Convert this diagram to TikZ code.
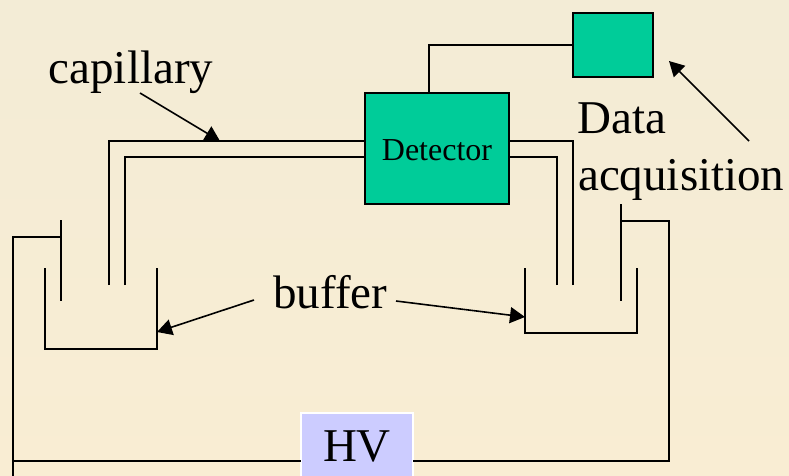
\documentclass[tikz,border=0pt]{standalone}
\usepackage{fontspec}
\setmainfont{Liberation Serif}
\usepackage{xcolor}
\usetikzlibrary{arrows.meta, positioning}
\definecolor{slidetop}{HTML}{F3ECD6}
\definecolor{slidebot}{HTML}{F9EDD3}
\definecolor{unitgreen}{HTML}{00CC99}
\definecolor{hvblue}{HTML}{CCCCFF}

\begin{document}
\begin{tikzpicture}[
  x=1pt, y=-1pt,
  wire/.style={draw, line width=1.8pt, line join=miter},
  unit/.style={draw, line width=1.9pt, fill=unitgreen, inner sep=0pt, outer sep=0pt},
  lbl/.style={font=\fontsize{47}{50}\selectfont, inner sep=0pt, anchor=base west},
  callout/.style={draw, line width=1.6pt, -{Triangle[length=15pt, width=16pt]}},
]
\clip (0,0) rectangle (789,475);
\shade[top color=slidetop, bottom color=slidebot] (0,0) rectangle (789,475);
% units
\node[unit, minimum width=144pt, minimum height=111pt, text height=24.6pt, font=\fontsize{32}{34}\selectfont] (det) at (437,148.5) {Detector};
\node[unit, minimum width=80pt, minimum height=64pt] (daq) at (613,45) {};
\node[draw=white, line width=1.8pt, fill=hvblue, minimum width=112pt, minimum height=67pt, inner sep=0pt, outer sep=0pt, font=\fontsize{47}{50}\selectfont] (hv) at (357,446.5) {HV};
% anchors of the wires
\coordinate (capLo) at (109,285);
\coordinate (capLi) at (125,285);
\coordinate (capRo) at (573,285);
\coordinate (capRi) at (557,285);
\coordinate (elecLtop) at (61,220);
\coordinate (elecLbot) at (61,301);
\coordinate (elecLj) at (61,237);
\coordinate (elecRtop) at (621,204);
\coordinate (elecRbot) at (621,301);
\coordinate (elecRj) at (621,221);
\coordinate (hvL) at (hv.west |- 0,461);
\coordinate (hvR) at (hv.east |- 0,461);
% capillary
\draw[wire] (capLo) |- (det.west |- 0,141);
\draw[wire] (capLi) |- (det.west |- 0,157);
\draw[wire] (capRo) |- (det.east |- 0,141);
\draw[wire] (capRi) |- (det.east |- 0,157);
\draw[wire] (det.north |- 0,93) ++(-8,0) |- (daq.west);
% buffer vials
\draw[wire] (45,268) |- (157,349) -- (157,268);
\draw[wire] (525,268) |- (637,333) -- (637,268);
% electrodes and HV
\draw[wire] (elecLtop) -- (elecLbot);
\draw[wire] (elecRtop) -- (elecRbot);
\draw[wire] (elecLj) -| (13,480);
\draw[wire] (13,461) -- (hvL);
\draw[wire] (elecRj) -| (669,461) -- (hvR);
% labels
\node[lbl] (capillary) at (48.5,83) {capillary};
\node[lbl] (buffer) at (273,308) {buffer};
\node[lbl] (data) at (577,133) {Data};
\node[lbl] (acq) at (578,190) {acquisition};
% callouts
\coordinate (capS) at (140,93);
\coordinate (capT) at (220,141);
\coordinate (bufLS) at (254,300);
\coordinate (bufLT) at (157,332);
\coordinate (bufRS) at (396,301);
\coordinate (bufRT) at (525,317);
\coordinate (daqS) at (749,141);
\coordinate (daqT) at (669,61);
\draw[callout] (capS) -- (capT);
\draw[callout] (bufLS) -- (bufLT);
\draw[callout] (bufRS) -- (bufRT);
\draw[callout] (daqS) -- (daqT);
\end{tikzpicture}
\end{document}
